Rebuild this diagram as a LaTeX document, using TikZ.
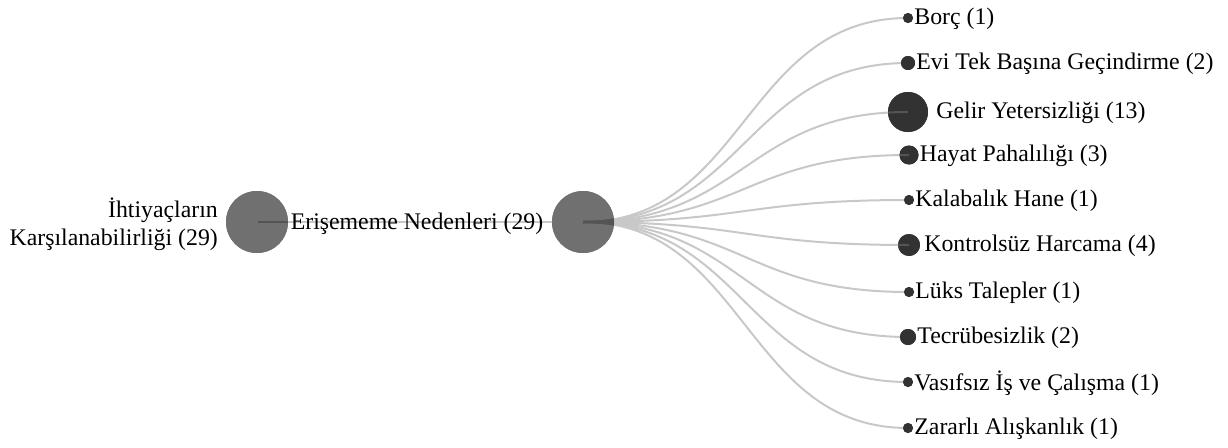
\documentclass[tikz,border=0pt]{standalone}
\usepackage{fontspec}
\setmainfont{Liberation Serif}
\begin{document}
\begin{tikzpicture}[x=1pt,y=-1pt,
  bigdot/.style={circle,fill=hubgray,draw=none,minimum size=62pt,inner sep=0pt},
  leafdot/.style={circle,fill=leafgray,draw=none,inner sep=0pt,minimum size=#1},
  lbl/.style={font=\fontsize{23.8}{28}\selectfont,text=black,inner sep=0pt},
  leaflbl/.style={lbl,anchor=west,yshift=-1.2pt},
  edge/.style={draw=edgegray,line width=2pt},
  inedge/.style={draw=inedgegray,line width=2pt}]
\definecolor{hubgray}{RGB}{112,112,112}
\definecolor{leafgray}{RGB}{50,50,50}
\definecolor{edgegray}{RGB}{200,200,200}
\definecolor{inedgegray}{RGB}{84,84,84}
\useasboundingbox (0,0) rectangle (1228,447);
% main nodes
\node[bigdot] (root) at (257,222) {};
\node[bigdot] (hub) at (583,222) {};
\node[lbl,anchor=east,align=right] (rootlbl) at (218,224) {İhtiyaçların\\Karşılanabilirliği (29)};
% leaves
\node[leafdot=10pt] (l1)  at (908,18)  {};
\node[leafdot=14pt] (l2)  at (908,63)  {};
\node[leafdot=40pt] (l3)  at (908,112) {};
\node[leafdot=19pt] (l4)  at (909,155) {};
\node[leafdot=10pt] (l5)  at (909,200) {};
\node[leafdot=22pt] (l6)  at (909,245) {};
\node[leafdot=10pt] (l7)  at (909,292) {};
\node[leafdot=16pt] (l8)  at (908,337) {};
\node[leafdot=10pt] (l9)  at (908,382) {};
\node[leafdot=10pt] (l10) at (908,428) {};
% light connectors
\draw[edge] (root.center) -- (hub.center);
\foreach \n/\y in {l1/18,l2/63,l3/112,l4/155,l5/200,l6/245,l7/292,l8/337,l9/382,l10/428}
  \draw[edge] (hub.center) .. controls (745,222) and (745,\y) .. (\n.center);
% dots on top of the light connectors
\fill[hubgray] (root) circle (31pt);
\fill[hubgray] (hub) circle (31pt);
\foreach \n/\r in {l1/5,l2/7,l3/20,l4/9.5,l5/5,l6/11,l7/5,l8/8,l9/5,l10/5}
  \fill[leafgray] (\n) circle (\r pt);
% darker parts of the connectors inside the dots
\begin{scope}
\clip (root) circle (31pt) (hub) circle (31pt) (l3) circle (20pt) (l6) circle (11pt) (l4) circle (9.5pt);
\draw[inedge] ([xshift=1pt]root.center) -- ([xshift=31pt]root.center);
\foreach \n/\y in {l1/18,l2/63,l3/112,l4/155,l5/200,l6/245,l7/292,l8/337,l9/382,l10/428}
  \draw[inedge] (hub.center) .. controls (745,222) and (745,\y) .. (\n.center);
\end{scope}
\node[lbl] (hublbl) at (417,224) {Erişememe Nedenleri (29)};
\node[leaflbl] (t1)  at ([xshift=1pt]l1.east)  {Borç (1)};
\node[leaflbl] (t2)  at ([xshift=1pt]l2.east)  {Evi Tek Başına Geçindirme (2)};
\node[leaflbl] (t3)  at ([xshift=8pt]l3.east)  {Gelir Yetersizliği (13)};
\node[leaflbl] (t4)  at ([xshift=1pt]l4.east)  {Hayat Pahalılığı (3)};
\node[leaflbl] (t5)  at ([xshift=1pt]l5.east)  {Kalabalık Hane (1)};
\node[leaflbl] (t6)  at ([xshift=4pt]l6.east)  {Kontrolsüz Harcama (4)};
\node[leaflbl] (t7)  at ([xshift=1pt]l7.east)  {Lüks Talepler (1)};
\node[leaflbl] (t8)  at ([xshift=1pt]l8.east)  {Tecrübesizlik (2)};
\node[leaflbl] (t9)  at ([xshift=1pt]l9.east)  {Vasıfsız İş ve Çalışma (1)};
\node[leaflbl] (t10) at ([xshift=1pt]l10.east) {Zararlı Alışkanlık (1)};
\end{tikzpicture}
\end{document}
